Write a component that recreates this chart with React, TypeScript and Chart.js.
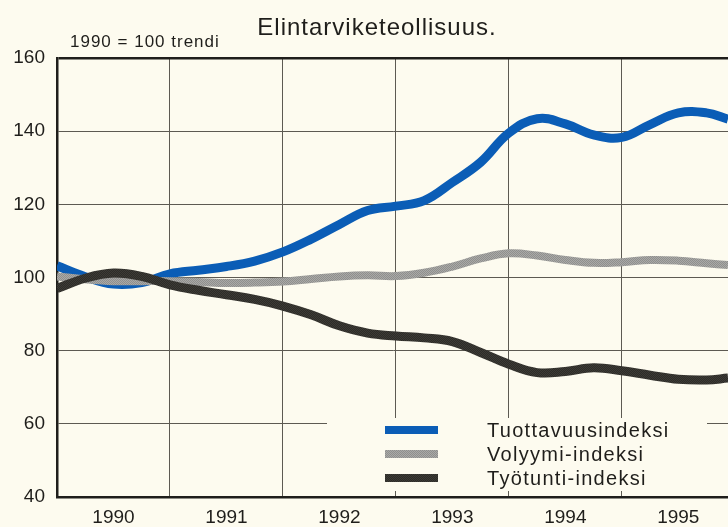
import React, { useEffect, useRef } from "react";
import { Chart, registerables } from "chart.js";

Chart.register(...registerables);

const chartTitle = "Elintarviketeollisuus.";
const subTitle = "1990 = 100 trendi";
const years = [1990, 1991, 1992, 1993, 1994, 1995];
const yearLabels = ["1990", "1991", "1992", "1993", "1994", "1995"];
const yMin = 40;
const yMax = 160;
const yStep = 20;
const xStart = 1990;
const xEnd = 1995.94;

const xPoints = [
  1990, 1990.25, 1990.5, 1990.75, 1991, 1991.25, 1991.5, 1991.75, 1992, 1992.25, 1992.5, 1992.75,
  1993, 1993.25, 1993.5, 1993.75, 1994, 1994.25, 1994.5, 1994.75, 1995, 1995.25, 1995.5, 1995.75, 1995.94,
];
const productivity = [
  103.2, 100.2, 98.2, 98.6, 101.0, 102.0, 103.0, 104.5, 107.0, 110.5, 114.5, 118.3,
  119.5, 121.0, 126.0, 131.5, 139.5, 143.4, 142.0, 139.0, 138.3, 141.8, 145.0, 145.0, 143.3,
];
const volume = [
  100.3, 99.5, 99.0, 99.0, 99.0, 98.8, 98.5, 98.6, 98.9, 99.6, 100.3, 100.6,
  100.4, 101.3, 103.0, 105.2, 106.6, 106.0, 104.8, 104.0, 104.2, 104.8, 104.6, 103.9, 103.4,
];
const hours = [
  97.0, 99.8, 101.2, 100.3, 98.0, 96.5, 95.3, 94.0, 92.2, 89.8, 86.8, 84.8,
  84.0, 83.5, 82.5, 79.5, 76.3, 74.0, 74.3, 75.3, 74.5, 73.3, 72.2, 72.0, 72.5,
];
const seriesNames = ["Tuottavuusindeksi", "Volyymi-indeksi", "Työtunti-indeksi"];

const BG = "#fdfbef";
const GRID = "#5d5a52";
const AXIS = "#1f1e1b";
const TEXT = "#1f1e1b";
const FONT = "'Liberation Sans', Arial, Helvetica, sans-serif";

function makePattern(c1: string, c2: string): CanvasPattern | string {
  const c = document.createElement("canvas");
  c.width = 2;
  c.height = 2;
  const g = c.getContext("2d");
  if (!g) return c1;
  g.fillStyle = c1;
  g.fillRect(0, 0, 2, 2);
  g.fillStyle = c2;
  g.fillRect(0, 0, 1, 1);
  g.fillRect(1, 1, 1, 1);
  const ctx = document.createElement("canvas").getContext("2d");
  const p = ctx ? ctx.createPattern(c, "repeat") : null;
  return p || c1;
}

export default function App() {
  const ref = useRef<HTMLCanvasElement | null>(null);

  useEffect(() => {
    const canvas = ref.current;
    if (!canvas) return;
    const blue = "#0b5db6";
    const gray = makePattern("#a9a9a7", "#8f8f8d");
    const dark = makePattern("#2d2c28", "#3d3b36");
    const colors = [blue, gray, dark];

    const mk = (vals: number[]) => xPoints.map((x, i) => ({ x, y: vals[i] }));

    const decor = {
      id: "decor",
      beforeDraw(chart: any) {
        const c = chart.ctx;
        c.save();
        c.fillStyle = BG;
        c.fillRect(0, 0, chart.width, chart.height);
        c.restore();
      },
      beforeDatasetsDraw(chart: any) {
        const c = chart.ctx;
        c.save();
        // legend box (covers grid)
        c.fillStyle = BG;
        c.fillRect(327, 418, 380, 73);
        const rows = [430, 454, 478];
        seriesNames.forEach((name, i) => {
          c.fillStyle = colors[i] as any;
          c.fillRect(385, rows[i] - 4, 53, 8);
          c.fillStyle = TEXT;
          c.font = `20px ${FONT}`;
          (c as any).letterSpacing = "1.3px";
          c.textBaseline = "middle";
          c.textAlign = "left";
          c.fillText(name, 487, rows[i] + 1);
        });
        c.restore();
      },
      afterDraw(chart: any) {
        const c = chart.ctx;
        c.save();
        c.fillStyle = TEXT;
        c.textBaseline = "alphabetic";
        c.textAlign = "center";
        c.font = `24px ${FONT}`;
        (c as any).letterSpacing = "1px";
        c.fillText(chartTitle, 377, 35);
        c.textAlign = "left";
        c.font = `17px ${FONT}`;
        (c as any).letterSpacing = "1px";
        c.fillText(subTitle, 70, 47);
        c.restore();
      },
    };

    const chart = new Chart(canvas, {
      type: "line",
      data: {
        datasets: [
          { label: seriesNames[0], data: mk(productivity), borderColor: blue, borderWidth: 9 },
          { label: seriesNames[1], data: mk(volume), borderColor: gray as any, borderWidth: 8 },
          { label: seriesNames[2], data: mk(hours), borderColor: dark as any, borderWidth: 9 },
        ].reverse() as any,
      },
      options: {
        responsive: false,
        maintainAspectRatio: false,
        devicePixelRatio: 1,
        animation: false,
        layout: { padding: { top: 58, left: 0, right: 0, bottom: 0 } },
        elements: {
          point: { radius: 0 },
          line: { tension: 0.4, borderCapStyle: "butt", borderJoinStyle: "round" },
        },
        plugins: {
          legend: { display: false },
          title: { display: false },
          tooltip: { enabled: false },
        },
        scales: {
          x: {
            type: "linear",
            min: xStart,
            max: xEnd,
            afterBuildTicks: (scale: any) => {
              const t: any[] = [];
              years.forEach((y) => {
                t.push({ value: y });
                t.push({ value: y + 0.5 });
              });
              scale.ticks = t;
            },
            afterFit: (scale: any) => {
              scale.height = 30;
            },
            ticks: {
              autoSkip: false,
              maxRotation: 0,
              padding: 9,
              color: TEXT,
              font: { family: FONT, size: 19 },
              callback: (v: any) => {
                const n = Number(v);
                if (Number.isInteger(n)) return "";
                const idx = years.indexOf(Math.floor(n));
                return idx >= 0 ? yearLabels[idx] : "";
              },
            },
            grid: {
              drawTicks: false,
              color: (ctx: any) =>
                ctx.tick && Number.isInteger(ctx.tick.value) ? GRID : "rgba(0,0,0,0)",
              lineWidth: 1,
            },
            border: { display: true, color: AXIS, width: 2.5 },
          },
          y: {
            type: "linear",
            min: yMin,
            max: yMax,
            afterFit: (scale: any) => {
              scale.width = 57;
            },
            ticks: {
              stepSize: yStep,
              padding: 12,
              color: TEXT,
              font: { family: FONT, size: 19 },
            },
            grid: {
              drawTicks: false,
              color: (ctx: any) => (ctx.tick && ctx.tick.value === yMax ? AXIS : GRID),
              lineWidth: (ctx: any) => (ctx.tick && ctx.tick.value === yMax ? 2.5 : 1),
            },
            border: { display: true, color: AXIS, width: 2.5 },
          },
        },
      } as any,
      plugins: [decor],
    });

    return () => chart.destroy();
  }, []);

  return (
    <div
      style={{
        position: "fixed",
        left: 0,
        top: 0,
        width: 728,
        height: 527,
        overflow: "hidden",
        background: BG,
      }}
    >
      <canvas ref={ref} width={728} height={527} style={{ display: "block" }} />
    </div>
  );
}
